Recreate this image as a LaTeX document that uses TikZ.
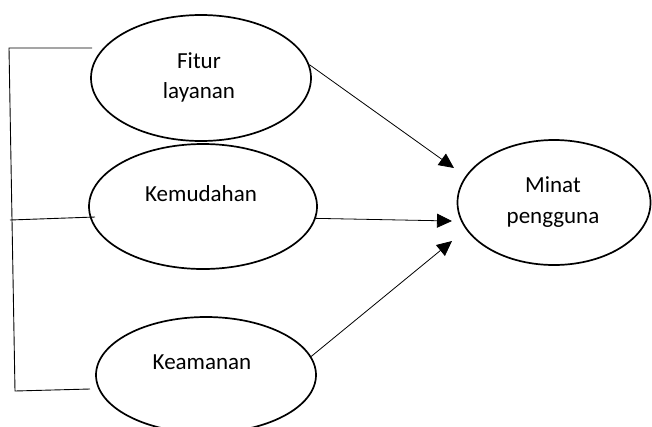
\documentclass[tikz,border=0pt]{standalone}
\usepackage{fontspec}
\setmainfont{Carlito}
\usetikzlibrary{shapes.geometric,arrows.meta}
\tikzset{
  varbox/.style={ellipse,draw,line width=1.7pt,inner sep=0pt},
  vartext/.style={align=center,font=\fontsize{23}{30}\selectfont},
  flow/.style={-{Triangle[length=15pt,width=14pt]},line width=0.8pt},
  link/.style={line width=0.9pt}
}
\begin{document}
\begin{tikzpicture}[x=1pt,y=-1pt]
  \useasboundingbox (0,0) rectangle (652,426);
  \clip (0,0) rectangle (652,426);
  % variabel bebas
  \node[varbox,minimum width=220pt,minimum height=126pt] (fitur) at (201,78) {};
  \node[varbox,minimum width=228pt,minimum height=125pt] (mudah) at (203,206.5) {};
  \node[varbox,minimum width=220pt,minimum height=116pt] (aman) at (206,375) {};
  % variabel terikat
  \node[varbox,minimum width=193pt,minimum height=125pt] (minat) at (554,202.5) {};
  \node[vartext] (fiturtxt) at (199,77) {Fitur\\layanan};
  \node[vartext] (mudahtxt) at (201,194) {Kemudahan};
  \node[vartext] (amantxt) at (202,362.5) {Keamanan};
  \node[vartext,font=\fontsize{23}{31}\selectfont] (minattxt) at (553,202) {Minat\\pengguna};
  % garis kurung kiri
  \coordinate (kt) at (9,48);
  \coordinate (kb) at (15,391);
  \coordinate (km) at (10,220);
  \coordinate (ft) at (92,48);
  \coordinate (mt) at (95,217);
  \coordinate (at) at (90,389);
  \draw[link] (ft) -- (kt) -- (kb) -- (at);
  \draw[link] (km) -- (mt);
  % panah ke minat
  \coordinate (p1) at (454,168);
  \coordinate (p2) at (452,221);
  \coordinate (p3) at (452,241);
  \draw[flow] (fitur.7) -- (p1);
  \draw[flow] (mudah.-6) -- (p2);
  \draw[flow] (aman.10) -- (p3);
\end{tikzpicture}
\end{document}
